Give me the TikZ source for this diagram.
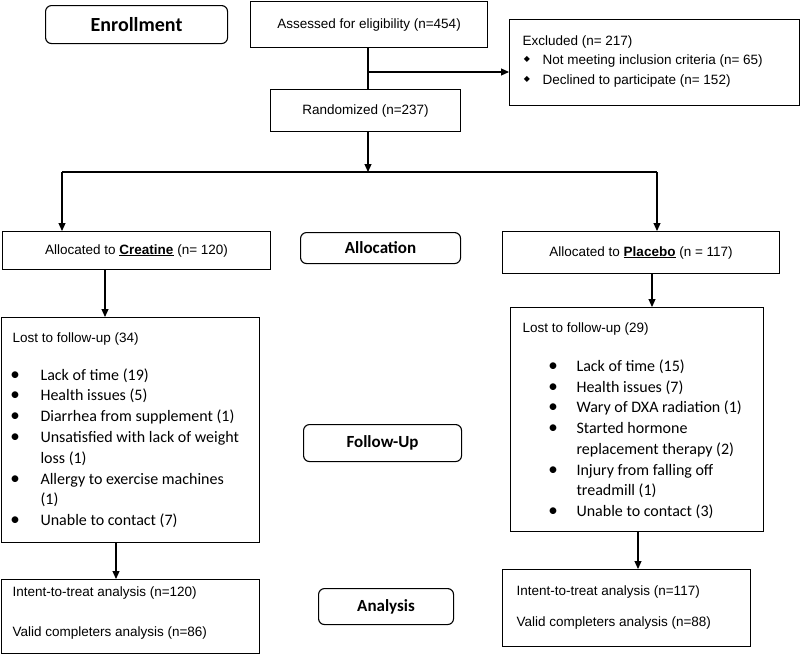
\documentclass[tikz,border=0pt]{standalone}
\usepackage{fontspec}
\setmainfont{Liberation Sans}
\newfontfamily\carlito{Carlito}
\newfontfamily\dejavu{DejaVu Sans}
\usetikzlibrary{arrows.meta}
\begin{document}
\begin{tikzpicture}[>={Triangle[length=8pt,width=7pt]},x=1pt,y=-1pt,line width=1.1pt,
	font=\fontsize{13.5}{16}\selectfont,
	box/.style 2 args={draw,rectangle,anchor=north west,inner sep=0pt,minimum width=#1pt,minimum height=#2pt},
	stage/.style 2 args={box={#1}{#2},rounded corners=6pt,font=\carlito\bfseries\fontsize{17}{20}\selectfont},
	txt/.style={anchor=base west,inner sep=0pt},
	item/.style={txt,font=\carlito\fontsize{16}{20}\selectfont},
	dot/.style={anchor=base,inner sep=0pt,font=\carlito\fontsize{19}{20}\selectfont}]
	\useasboundingbox (0,0) rectangle (800,654);
	% boxes
	\node[stage={182}{38}] (enroll) at (45,5) {\fontsize{20}{24}\selectfont Enrollment};
	\node[box={237}{46}] (assess) at (250,1) {Assessed for eligibility (n=454)};
	\node[box={290}{86}] (excl) at (509,19) {};
	\node[box={190}{42}] (rand) at (270,89) {Randomized (n=237)};
	\node[box={268}{38}] (crea) at (2,231) {Allocated to \underline{\textbf{Creatine}} (n= 120)};
	\node[stage={160}{31}] (alloc) at (300,232) {Allocation};
	\node[box={277}{42}] (plac) at (502,231) {Allocated to \underline{\textbf{Placebo}} (n = 117)};
	\node[box={258}{225}] (lost1) at (1,317) {};
	\node[box={253}{224}] (lost2) at (510,307) {};
	\node[stage={158}{37}] (follow) at (303,424) {Follow-Up};
	\node[box={258}{74}] (ana1) at (1,579) {};
	\node[box={248}{77}] (ana2) at (502,569) {};
	\node[stage={135}{36}] (anal) at (318,588) {Analysis};
	% excluded
	\node[txt] (exH) at (522,45) {Excluded (n= 217)};
	\node[txt] (ex1) at (542,64.5) {Not meeting inclusion criteria (n= 65)};
	\node[txt] (ex2) at (542,84) {Declined to participate (n= 152)};
	\node[inner sep=0pt,font=\dejavu\fontsize{8}{8}\selectfont] (exD1) at (527,59.5) {◆};
	\node[inner sep=0pt,font=\dejavu\fontsize{8}{8}\selectfont] (exD2) at (527,79) {◆};
	% lost to follow-up, creatine
	\node[txt] (l1H) at (12,342) {Lost to follow-up (34)};
	\foreach \t/\b [count=\i from 0] in {Lack of time (19)/1,Health issues (5)/1,Diarrhea from supplement (1)/1,
		Unsatisfied with lack of weight/1,loss (1)/0,Allergy to exercise machines/1,(1)/0,Unable to contact (7)/1}{
		\node[item] (l1t\i) at (40,380+20.8*\i) {\t};
		\ifnum\b=1 \node[dot] (l1b\i) at (15,380+20.8*\i) {•}; \fi
	}
	% lost to follow-up, placebo
	\node[txt] (l2H) at (522,332) {Lost to follow-up (29)};
	\foreach \t/\b [count=\i from 0] in {Lack of time (15)/1,Health issues (7)/1,Wary of DXA radiation (1)/1,
		Started hormone/1,replacement therapy (2)/0,Injury from falling off/1,treadmill (1)/0,Unable to contact (3)/1}{
		\node[item] (l2t\i) at (576,371.5+20.7*\i) {\t};
		\ifnum\b=1 \node[dot] (l2b\i) at (553,371.5+20.7*\i) {•}; \fi
	}
	% analysis
	\node[txt] (a1I) at (12,596) {Intent-to-treat analysis (n=120)};
	\node[txt] (a1V) at (12,636) {Valid completers analysis (n=86)};
	\node[txt] (a2I) at (516,595) {Intent-to-treat analysis (n=117)};
	\node[txt] (a2V) at (516,626) {Valid completers analysis (n=88)};
	% connectors
	\coordinate (jE) at (368,72);
	\coordinate (jR) at (368,172);
	\coordinate (jC) at (62,172);
	\coordinate (jP) at (657,172);
	\coordinate (xC) at (105,0);
	\coordinate (xP) at (652,0);
	\coordinate (xL) at (116,0);
	\coordinate (xM) at (638,0);
	\draw (jE |- assess.south) -- (jE |- rand.north);
	\draw[->] (jE) -- (jE -| excl.west);
	\draw[->] (jR |- rand.south) -- (jR);
	\draw (jC) -- (jP);
	\draw[->] (jC) -- (jC |- crea.north);
	\draw[->] (jP) -- (jP |- plac.north);
	\draw[->] (xC |- crea.south) -- (xC |- lost1.north);
	\draw[->] (xP |- plac.south) -- (xP |- lost2.north);
	\draw[->] (xL |- lost1.south) -- (xL |- ana1.north);
	\draw[->] (xM |- lost2.south) -- (xM |- ana2.north);
\end{tikzpicture}
\end{document}
